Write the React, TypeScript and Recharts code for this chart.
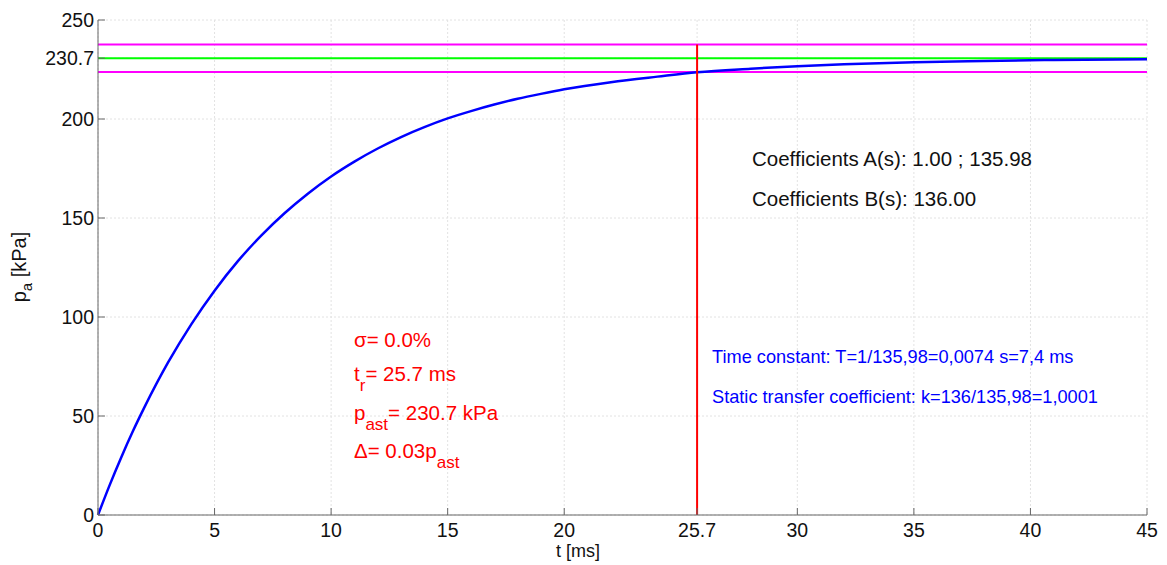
import { CartesianGrid, Line, LineChart, ReferenceLine, XAxis, YAxis } from 'recharts'

// step response, values
const timeMs = [0, 0.5, 1, 1.5, 2, 3, 4, 5, 6, 7, 8, 9, 10, 11, 12, 13, 14, 15, 16, 17, 18, 19, 20, 22, 24, 25.7, 28, 30, 32, 35, 38, 41, 45]
const pressure = [0, 15.1, 29.2, 42.4, 54.6, 76.9, 96.3, 113.3, 128.2, 141.1, 152.4, 162.3, 171, 178.5, 185.1, 190.9, 195.9, 200.3, 204, 207.3, 210.2, 212.7, 215, 218.6, 221.4, 223.6, 225.4, 226.7, 227.7, 228.7, 229.3, 229.8, 230.2]

const xTicks = [0, 5, 10, 15, 20, 25.7, 30, 35, 40, 45]
const yTicks = [0, 50, 100, 150, 200, 230.7, 250]

const pSteady = 230.7
const bandUpper = 237.6
const bandLower = 223.8
const riseTime = 25.7

const data = timeMs.map((t, i) => ({ t, p: pressure[i] }))

const FONT = '"Liberation Sans", Arial, sans-serif'
const AXIS = '#666'

const BottomTick = (props: any) => {
  const { x, y, payload } = props
  return (
    <g>
      <line x1={x} y1={y} x2={x} y2={y - 7} stroke={AXIS} strokeWidth={1} />
      <text x={x} y={y + 22} textAnchor='middle' fontSize={19.5} fontFamily={FONT} fill='#111'>{payload.value}</text>
    </g>
  )
}

const TopTick = (props: any) => {
  const { x, y } = props
  return <line x1={x} y1={y} x2={x} y2={y + 7} stroke={AXIS} strokeWidth={1} />
}

const LeftTick = (props: any) => {
  const { x, y, payload } = props
  return (
    <g>
      <line x1={x} y1={y} x2={x + 7} y2={y} stroke={AXIS} strokeWidth={1} />
      <text x={x - 4} y={y + 7} textAnchor='end' fontSize={19.5} fontFamily={FONT} fill='#111'>{payload.value}</text>
    </g>
  )
}

const RightTick = (props: any) => {
  const { x, y } = props
  return <line x1={x} y1={y} x2={x - 7} y2={y} stroke={AXIS} strokeWidth={1} />
}

export default function App() {
  return (
    <div style={{ position: 'absolute', left: 0, top: 0, width: 1167, height: 565, background: '#fff' }}>
      <LineChart width={1167} height={565} data={data} margin={{ top: 20, right: 20, left: 0, bottom: 0 }}>
        <CartesianGrid stroke='#e2e2e2' strokeDasharray='2 2' />
        <XAxis dataKey='t' type='number' domain={[0, 45]} ticks={xTicks} height={50}
          axisLine={{ stroke: AXIS }} tickLine={false} tickSize={0} tickMargin={0} tick={<BottomTick />} />
        <XAxis xAxisId='top' orientation='top' dataKey='t' type='number' domain={[0, 45]} ticks={xTicks} height={0}
          axisLine={{ stroke: AXIS }} tickLine={false} tickSize={0} tickMargin={0} tick={<TopTick />} />
        <YAxis type='number' domain={[0, 250]} ticks={yTicks} width={98}
          axisLine={{ stroke: AXIS }} tickLine={false} tickSize={0} tickMargin={0} tick={<LeftTick />} />
        <YAxis yAxisId='right' orientation='right' type='number' domain={[0, 250]} ticks={yTicks} width={0}
          axisLine={{ stroke: AXIS }} tickLine={false} tickSize={0} tickMargin={0} tick={<RightTick />} />
        <ReferenceLine y={bandUpper} stroke='#ff00ff' strokeWidth={2} />
        <ReferenceLine y={bandLower} stroke='#ff00ff' strokeWidth={2} />
        <ReferenceLine y={pSteady} stroke='#00ff00' strokeWidth={2} />
        <Line type='monotone' dataKey='p' stroke='#0000ff' strokeWidth={2.5} dot={false} isAnimationActive={false} />
        <ReferenceLine segment={[{ x: riseTime, y: 0 }, { x: riseTime, y: bandUpper }]} stroke='#ff0000' strokeWidth={2} />
      </LineChart>
      <svg width={1167} height={565} style={{ position: 'absolute', left: 0, top: 0, pointerEvents: 'none' }} fontFamily={FONT}>
        <text x={578} y={557} textAnchor='middle' fontSize={18} fill='#111'>t [ms]</text>
        <text transform='translate(26,267) rotate(-90)' textAnchor='middle' fontSize={20} fill='#111'>
          p<tspan dy={6} fontSize={15}>a</tspan><tspan dy={-6}> [kPa]</tspan>
        </text>

        <g fill='#ff0000' fontSize={20.5}>
          <text x={354} y={347}>σ= 0.0%</text>
          <text x={354} y={381}>t<tspan dy={10} fontSize={17}>r</tspan><tspan dy={-10}>= 25.7 ms</tspan></text>
          <text x={354} y={420}>p<tspan dy={10} fontSize={17}>ast</tspan><tspan dy={-10}>= 230.7 kPa</tspan></text>
          <text x={354} y={458}>Δ= 0.03p<tspan dy={10} fontSize={17}>ast</tspan></text>
        </g>

        <g fill='#111' fontSize={20.5}>
          <text x={752} y={166}>Coefficients A(s): 1.00 ; 135.98</text>
          <text x={752} y={206}>Coefficients B(s): 136.00</text>
        </g>

        <g fill='#0000ff' fontSize={18.2}>
          <text x={712} y={363}>Time constant: T=1/135,98=0,0074 s=7,4 ms</text>
          <text x={712} y={403}>Static transfer coefficient: k=136/135,98=1,0001</text>
        </g>
      </svg>
    </div>
  )
}
